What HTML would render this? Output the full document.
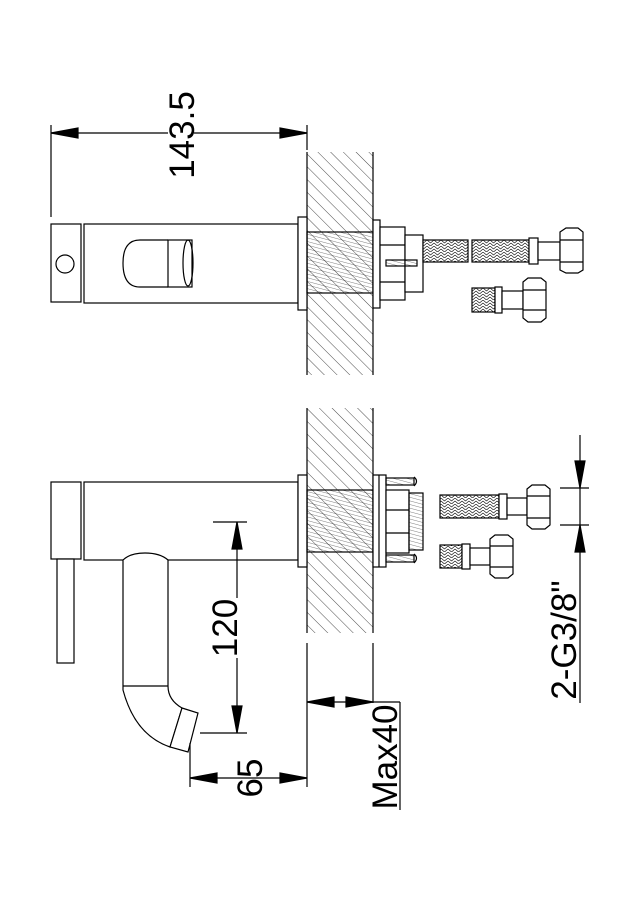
<!DOCTYPE html>
<html><head><meta charset="utf-8"><style>html,body{margin:0;padding:0;background:#fff}svg{display:block}</style></head>
<body>
<svg width="634" height="898" viewBox="0 0 634 898" xmlns="http://www.w3.org/2000/svg" font-family="Liberation Sans, sans-serif">
<defs>
<pattern id="hatch" width="9" height="9" patternUnits="userSpaceOnUse" patternTransform="rotate(-45)">
<line x1="0" y1="0" x2="0" y2="9" stroke="#000" stroke-width="0.7"/></pattern>
<pattern id="thr" width="3.5" height="3.5" patternUnits="userSpaceOnUse" patternTransform="rotate(-75)">
<line x1="0" y1="0" x2="0" y2="3.5" stroke="#000" stroke-width="0.5"/></pattern>
<pattern id="braid" width="7" height="6" patternUnits="userSpaceOnUse">
<rect width="7" height="6" fill="#fff"/><path d="M0 0 L3.5 3 L7 0 M0 3 L3.5 6 L7 3" stroke="#000" stroke-width="0.6" fill="none"/></pattern>
</defs>
<g fill="none" stroke="#000" stroke-width="1.2">
<!-- TOP VIEW -->
<line x1="51" y1="125" x2="51" y2="217"/>
<line x1="307" y1="125" x2="307" y2="150"/>
<line x1="51" y1="133" x2="307" y2="133"/>
<path d="M51 133 L78 128 L78 138Z M307 133 L280 128 L280 138Z" fill="#000"/>
<rect x="307" y="152" width="66" height="223" fill="url(#hatch)" stroke="none"/>
<line x1="307" y1="152" x2="307" y2="375"/><line x1="373" y1="152" x2="373" y2="375"/>
<rect x="51" y="224" width="30" height="78" fill="#fff"/>
<rect x="84" y="224" width="214" height="79" fill="#fff"/>
<circle cx="65" cy="264" r="9"/>
<path d="M168 240 L140 240 Q123 240 123 263 Q123 287 140 287 L168 287"/>
<rect x="168" y="240" width="24" height="47"/>
<ellipse cx="188" cy="263" rx="5" ry="23"/>
<rect x="298" y="217" width="9" height="93" fill="#fff"/>
<rect x="307" y="232" width="66" height="61" fill="url(#thr)"/>
<rect x="373" y="220" width="7" height="88" fill="#fff"/>
<rect x="380" y="227" width="25" height="73" fill="#fff"/>
<line x1="380" y1="245" x2="405" y2="245"/><line x1="380" y1="282" x2="405" y2="282"/>
<rect x="405" y="235" width="18" height="57" fill="#fff"/>
<rect x="386" y="260" width="31" height="6" fill="url(#thr)"/>
<rect x="423" y="240" width="45" height="22" fill="url(#braid)"/>
<rect x="472" y="240" width="57" height="22" fill="url(#braid)"/>
<rect x="529" y="238" width="9" height="26" fill="#fff"/>
<rect x="538" y="242" width="22" height="18" fill="#fff"/>
<path d="M560 232 L566 228 L578 228 L583 232 L583 270 L578 273 L566 273 L560 270Z" fill="#fff"/>
<line x1="560" y1="240" x2="583" y2="240"/><line x1="560" y1="262" x2="583" y2="262"/>
<rect x="472" y="288" width="23" height="24" fill="url(#braid)"/>
<rect x="495" y="287" width="7" height="26" fill="#fff"/>
<rect x="502" y="291" width="21" height="18" fill="#fff"/>
<path d="M523 282 L528 278 L541 278 L546 282 L546 318 L541 322 L528 322 L523 318Z" fill="#fff"/>
<line x1="523" y1="290" x2="546" y2="290"/><line x1="523" y1="310" x2="546" y2="310"/>

<!-- BOTTOM VIEW -->
<rect x="307" y="408" width="66" height="225" fill="url(#hatch)" stroke="none"/>
<line x1="307" y1="408" x2="307" y2="633"/><line x1="373" y1="408" x2="373" y2="633"/>
<line x1="307" y1="643" x2="307" y2="787"/><line x1="373" y1="643" x2="373" y2="703"/>
<rect x="51" y="482" width="30" height="77" fill="#fff"/>
<rect x="84" y="482" width="214" height="78" fill="#fff"/>
<rect x="57" y="559" width="17" height="104" fill="#fff"/>
<path d="M123 560 Q130 553 145 553 Q160 553 168 560 L168 686 Q168 700 182 708 L170 747 Q135 735 123 690 Z" fill="#fff"/>
<line x1="123" y1="686" x2="168" y2="686"/>
<path d="M182 708 L198 713 L188 752 L170 747 Z" fill="#fff"/>
<line x1="237" y1="522" x2="237" y2="733"/>
<line x1="213" y1="522" x2="247" y2="522"/><line x1="200" y1="733" x2="247" y2="733"/>
<path d="M237 522 L232 549 L242 549Z M237 733 L232 706 L242 706Z" fill="#000"/>
<line x1="190" y1="743" x2="190" y2="787"/>
<line x1="190" y1="778" x2="307" y2="778"/>
<path d="M190 778 L217 773 L217 783Z M307 778 L280 773 L280 783Z" fill="#000"/>
<line x1="307" y1="702" x2="400" y2="702"/><line x1="400" y1="702" x2="400" y2="810"/>
<path d="M307 702 L334 697 L334 707Z M373 702 L346 697 L346 707Z" fill="#000"/>
<line x1="580" y1="435" x2="580" y2="703"/>
<line x1="560" y1="488" x2="589" y2="488"/><line x1="560" y1="525" x2="589" y2="525"/>
<path d="M580 488 L575 461 L585 461Z M580 525 L575 552 L585 552Z" fill="#000"/>
<rect x="298" y="475" width="9" height="92" fill="#fff"/>
<rect x="307" y="490" width="66" height="62" fill="url(#thr)"/>
<rect x="373" y="475" width="13" height="92" fill="#fff"/>
<line x1="379" y1="475" x2="379" y2="567"/>
<rect x="386" y="478" width="28" height="7" fill="url(#thr)"/>
<rect x="386" y="555" width="28" height="7" fill="url(#thr)"/>
<path d="M414 477 Q419 481 414 486 M414 554 Q419 558 414 563"/>
<rect x="386" y="490" width="23" height="63" fill="#fff"/>
<line x1="386" y1="510" x2="409" y2="510"/><line x1="386" y1="533" x2="409" y2="533"/>
<rect x="409" y="493" width="14" height="57" fill="url(#thr)"/>
<rect x="440" y="495" width="59" height="23" fill="url(#braid)"/>
<rect x="499" y="494" width="8" height="25" fill="#fff"/>
<rect x="507" y="498" width="20" height="17" fill="#fff"/>
<path d="M527 489 L532 485 L545 485 L550 489 L550 525 L545 529 L532 529 L527 525Z" fill="#fff"/>
<line x1="527" y1="496" x2="550" y2="496"/><line x1="527" y1="518" x2="550" y2="518"/>
<rect x="440" y="545" width="22" height="23" fill="url(#braid)"/>
<rect x="462" y="544" width="8" height="25" fill="#fff"/>
<rect x="470" y="548" width="20" height="17" fill="#fff"/>
<path d="M490 539 L495 535 L508 535 L513 539 L513 574 L508 578 L495 578 L490 574Z" fill="#fff"/>
<line x1="490" y1="546" x2="513" y2="546"/><line x1="490" y1="567" x2="513" y2="567"/>
</g>
<g font-size="35" fill="#000" text-anchor="middle">
<rect x="168" y="90" width="26" height="90" fill="#fff"/>
<text transform="translate(194,135) rotate(-90)">143.5</text>
<rect x="213" y="598" width="26" height="60" fill="#fff"/>
<text transform="translate(237,628) rotate(-90)">120</text>
<text transform="translate(262,778) rotate(-90)">65</text>
<text transform="translate(397,757) rotate(-90)">Max40</text>
<text transform="translate(576,640) rotate(-90)">2-G3/8"</text>
</g>
</svg>
</body></html>
